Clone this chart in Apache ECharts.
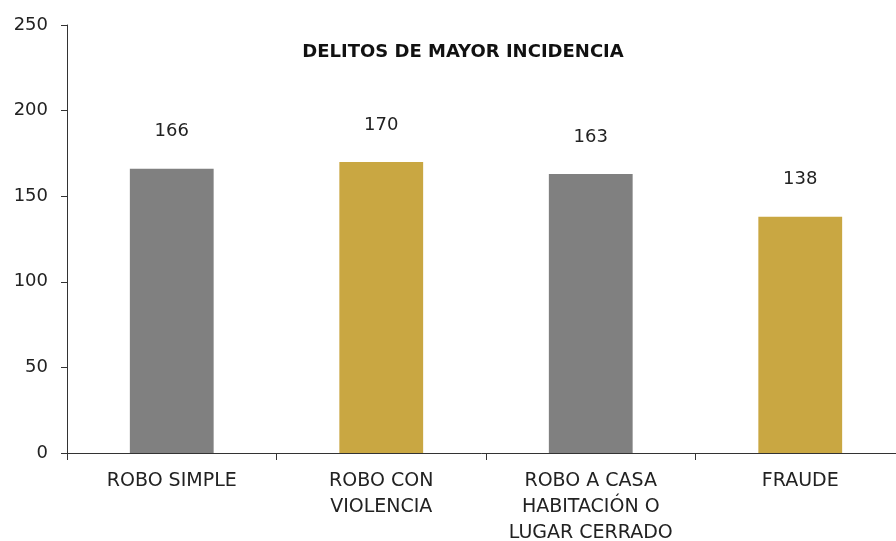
<!DOCTYPE html>
<html><head><meta charset="utf-8">
<script src="https://cdn.jsdelivr.net/npm/echarts@6/dist/echarts.min.js"></script>
<style>html,body{margin:0;padding:0;background:#fff}#c{width:896px;height:541px}</style>
</head><body><div id="c"></div>
<script>
const categories = ['ROBO SIMPLE', 'ROBO CON\nVIOLENCIA', 'ROBO A CASA\nHABITACIÓN O\nLUGAR CERRADO', 'FRAUDE'];
const values = [166, 170, 163, 138];
const barColors = ['#808080', '#C9A742', '#808080', '#C9A742'];
const yTicks = [0, 50, 100, 150, 200, 250];
const titleText = 'DELITOS DE MAYOR INCIDENCIA';

const font = '"DejaVu Sans", sans-serif';
const chart = echarts.init(document.getElementById('c'));
chart.setOption({
  animation: false,
  title: { text: titleText, left: 458, top: 38, textAlign: 'center',
    textStyle: { fontFamily: font, fontWeight: 'bold', fontSize: 18, color: '#111' } },
  grid: { left: 67, top: 25, width: 838, height: 428, outerBoundsMode: 'none', containLabel: false },
  xAxis: { type: 'category', data: categories,
    axisLine: { lineStyle: { color: '#333', width: 1 } },
    axisTick: { show: true, length: 7, lineStyle: { color: '#333' } },
    axisLabel: { fontFamily: font, fontSize: 19, color: '#222', margin: 15, lineHeight: 26, interval: 0, verticalAlign: 'top' } },
  yAxis: { type: 'value', min: yTicks[0], max: yTicks[yTicks.length - 1], interval: 50,
    splitLine: { show: false },
    axisLine: { show: true, lineStyle: { color: '#333' } },
    axisTick: { show: true, length: 6, lineStyle: { color: '#333' } },
    axisLabel: { fontFamily: font, fontSize: 18, color: '#222', margin: 19 } },
  series: [{ type: 'bar', barWidth: '40%',
    data: values.map((v, i) => ({ value: v, itemStyle: { color: barColors[i] } })),
    label: { show: true, position: 'top', distance: 28, fontFamily: font, fontSize: 18, color: '#222' } }]
});
</script></body></html>
